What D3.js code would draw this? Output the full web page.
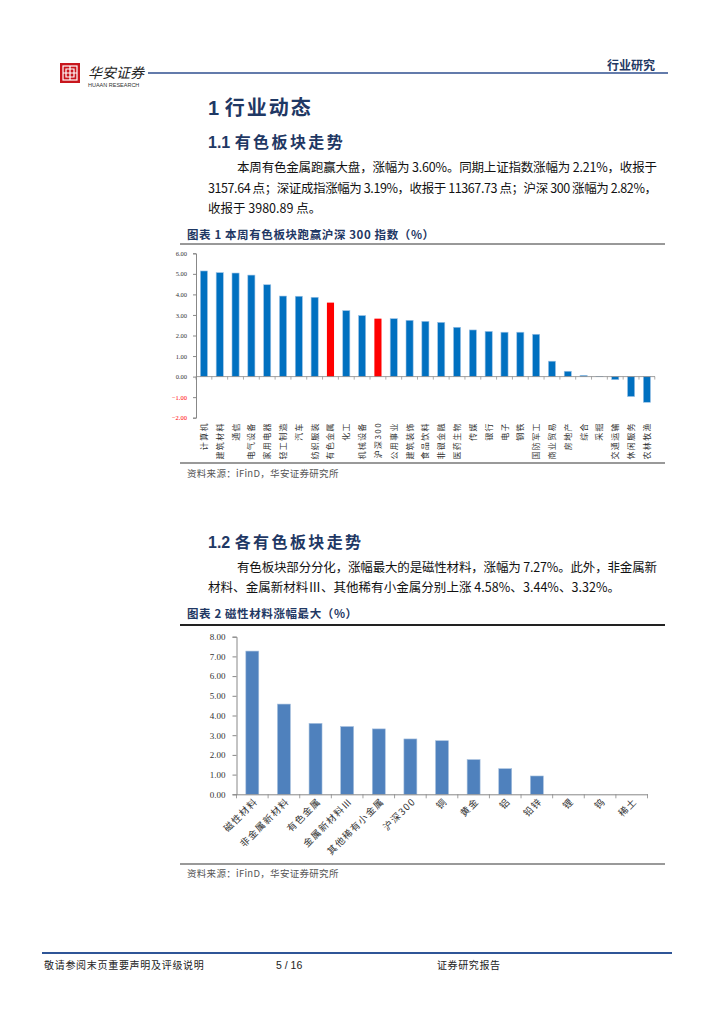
<!DOCTYPE html>
<html><head><meta charset="utf-8">
<script src="https://cdn.jsdelivr.net/npm/d3@7/dist/d3.min.js"></script>
<style>
body{margin:0;background:#fff;}
svg{display:block;}
</style></head>
<body>
<svg id="page" width="724" height="1024"></svg>
<script>
// ---------- DATA ----------
const sectors1 = ["计算机","建筑材料","通信","电气设备","家用电器","轻工制造","汽车","纺织服装","有色金属","化工","机械设备","沪深300","公用事业","建筑装饰","食品饮料","非银金融","医药生物","传媒","银行","电子","钢铁","国防军工","商业贸易","房地产","综合","采掘","交通运输","休闲服务","农林牧渔"];
const values1 = [5.14,5.06,5.04,4.94,4.47,3.92,3.91,3.86,3.60,3.21,2.97,2.82,2.82,2.74,2.69,2.64,2.40,2.27,2.20,2.16,2.16,2.06,0.75,0.26,0.06,0.01,-0.15,-0.97,-1.25];
const highlight1 = ["有色金属","沪深300"];
const ticks1 = [6,5,4,3,2,1,0,-1,-2];

const sectors2 = ["磁性材料","非金属新材料","有色金属","金属新材料Ⅲ","其他稀有小金属","沪深300","铜","黄金","铝","铅锌","锂","钨","稀土"];
const values2 = [7.27,4.58,3.60,3.44,3.32,2.81,2.72,1.76,1.30,0.93,0,0,0];
const ticks2 = [0,1,2,3,4,5,6,7,8];

const svg = d3.select("#page");
const navy = "#1F3864";
const cjk = '"Noto Sans CJK SC","Noto Sans",sans-serif';
const serif = '"Liberation Serif","DejaVu Serif",serif';
const sans = '"Liberation Sans",Arial,sans-serif';

// ---------- HEADER ----------
const logo = svg.append("g").attr("transform","translate(60,63)");
logo.append("rect").attr("width",20).attr("height",20).attr("fill","#C8161D");
logo.append("rect").attr("x",3).attr("y",3).attr("width",14).attr("height",14).attr("fill","none").attr("stroke","#fff").attr("stroke-width",1.2);
logo.append("path").attr("d","M10,3V17M3,10H17M6,6H14V14H6Z").attr("fill","none").attr("stroke","#fff").attr("stroke-width",1.2);
svg.append("text").attr("x",88).attr("y",78).attr("font-family",cjk).attr("font-size",14).attr("font-style","italic").attr("fill","#222").text("华安证券");
svg.append("text").attr("x",88).attr("y",87).attr("font-family",sans).attr("font-size",5.5).attr("fill","#333").text("HUAAN RESEARCH");
svg.append("line").attr("x1",148).attr("x2",668).attr("y1",73).attr("y2",73).attr("stroke","#2F4F8F").attr("stroke-width",1.3);
svg.append("text").attr("x",655).attr("y",70).attr("text-anchor","end").attr("font-family",cjk).attr("font-weight","bold").attr("font-size",12).attr("fill","#1F3864").text("行业研究");

// ---------- TEXT BLOCKS ----------
function heading(x,y,size,num,txt,ls){
  const t = svg.append("text").attr("x",x).attr("y",y).attr("font-family",cjk).attr("font-weight","bold").attr("font-size",size).attr("fill",navy);
  t.append("tspan").attr("font-family",sans).text(num+" ");
  t.append("tspan").attr("letter-spacing",ls).text(txt);
}
function body(x,y,txt,len){
  const t = svg.append("text").attr("x",x).attr("y",y).attr("font-family",cjk).attr("font-size",12.5).attr("fill","#111").text(txt);
  if(len){t.attr("textLength",len).attr("lengthAdjust","spacing");}
}
heading(208,115,20,"1","行业动态",2);
heading(208,148,16,"1.1","有色板块走势",2.4);
body(237,172,"本周有色金属跑赢大盘，涨幅为 3.60%。同期上证指数涨幅为 2.21%，收报于",420);
body(208,193,"3157.64 点；深证成指涨幅为 3.19%，收报于 11367.73 点；沪深 300 涨幅为 2.82%，",449);
body(208,213,"收报于 3980.89 点。");

heading(208,548,16,"1.2","各有色板块走势",2.4);
body(237,572,"有色板块部分分化，涨幅最大的是磁性材料，涨幅为 7.27%。此外，非金属新",420);
body(208,592,"材料、金属新材料Ⅲ、其他稀有小金属分别上涨 4.58%、3.44%、3.32%。",412);

function chartTitle(y,txt){
  svg.append("text").attr("x",187).attr("y",y).attr("font-family",cjk).attr("font-weight","bold").attr("font-size",11.5)
    .attr("letter-spacing",0.6).attr("fill",navy).text(txt);
}
function source(y){
  svg.append("text").attr("x",187).attr("y",y).attr("font-family",cjk).attr("font-size",9.5).attr("letter-spacing",0.3).attr("fill","#555").text("资料来源：iFinD，华安证券研究所");
}

// ---------- CHART 1 ----------
chartTitle(239,"图表 1 本周有色板块跑赢沪深 300 指数（%）");
svg.append("line").attr("x1",180).attr("x2",665).attr("y1",244).attr("y2",244).attr("stroke","#333").attr("stroke-width",1);
svg.append("line").attr("x1",180).attr("x2",665).attr("y1",463).attr("y2",463).attr("stroke","#999").attr("stroke-width",2);
source(477);

const x1 = d3.scaleBand().domain(sectors1).range([196,654.8]).padding(0);
const y1 = d3.scaleLinear().domain([-2,6]).range([417.7,253.3]);
const g1 = svg.append("g");
const bw1 = x1.step()*0.45;
g1.selectAll("rect.b").data(sectors1).join("rect")
  .attr("x",d=>x1(d)+x1.step()/2-bw1/2)
  .attr("width",bw1)
  .attr("y",(d,i)=>y1(Math.max(0,values1[i])))
  .attr("height",(d,i)=>Math.abs(y1(values1[i])-y1(0)))
  .attr("fill",d=>highlight1.includes(d)?"#FF0000":"#0070C0")
  .attr("stroke",d=>highlight1.includes(d)?"none":"#9DC3E6").attr("stroke-width",0.6);
// y axis
const ya1 = d3.axisLeft(y1).tickValues(ticks1).tickSize(3).tickFormat(d3.format(".2f"));
const yg1 = g1.append("g").attr("transform","translate(196,0)").call(ya1);
yg1.select(".domain").attr("stroke","#888");
yg1.selectAll(".tick line").attr("stroke","#888");
yg1.selectAll(".tick text").attr("font-family",serif).attr("font-size",6.5).attr("x",-9)
  .attr("fill",d=>d<0?"#FF0000":"#333");
// x axis at zero
g1.append("line").attr("x1",196).attr("x2",655).attr("y1",y1(0)).attr("y2",y1(0)).attr("stroke","#888").attr("stroke-width",0.8);
g1.selectAll("line.xt").data(d3.range(sectors1.length+1)).join("line")
  .attr("x1",k=>196+k*x1.step()).attr("x2",k=>196+k*x1.step())
  .attr("y1",y1(0)).attr("y2",y1(0)+3).attr("stroke","#888").attr("stroke-width",0.7);
g1.selectAll("text.xl").data(sectors1).join("text")
  .attr("transform",d=>`translate(${x1(d)+x1.step()/2+3},422) rotate(-90)`)
  .attr("text-anchor","end").attr("font-family",cjk).attr("font-size",8).attr("letter-spacing",1.4).attr("fill","#333").text(d=>d);

// ---------- CHART 2 ----------
chartTitle(618,"图表 2 磁性材料涨幅最大（%）");
svg.append("line").attr("x1",180).attr("x2",665).attr("y1",625).attr("y2",625).attr("stroke","#222").attr("stroke-width",2);
svg.append("line").attr("x1",180).attr("x2",665).attr("y1",864).attr("y2",864).attr("stroke","#999").attr("stroke-width",2);
source(877);

const x2 = d3.scaleBand().domain(sectors2).range([236.5,647.5]).padding(0);
const y2 = d3.scaleLinear().domain([0,8]).range([794.3,636.7]);
const g2 = svg.append("g");
const bw2 = x2.step()*0.41;
g2.selectAll("rect").data(sectors2).join("rect")
  .attr("x",d=>x2(d)+x2.step()/2-bw2/2)
  .attr("width",bw2)
  .attr("y",(d,i)=>y2(values2[i]))
  .attr("height",(d,i)=>y2(0)-y2(values2[i]))
  .attr("fill","#4F81BD").attr("stroke","#A7C0DE").attr("stroke-width",0.6);
const ya2 = d3.axisLeft(y2).tickValues(ticks2).tickSize(4).tickFormat(d3.format(".2f"));
const yg2 = g2.append("g").attr("transform","translate(236.5,0)").call(ya2);
yg2.select(".domain").attr("stroke","#888");
yg2.selectAll(".tick line").attr("stroke","#888");
yg2.selectAll(".tick text").attr("font-family",serif).attr("font-size",9).attr("x",-11).attr("fill","#333");
const xa2 = d3.axisBottom(x2).tickSize(0).tickFormat("");
const xg2 = g2.append("g").attr("transform",`translate(0,${y2(0)})`).call(xa2);
xg2.select(".domain").attr("stroke","#888");
g2.selectAll("line.xt").data(d3.range(sectors2.length+1)).join("line")
  .attr("x1",k=>236.5+k*x2.step()).attr("x2",k=>236.5+k*x2.step())
  .attr("y1",y2(0)).attr("y2",y2(0)+4).attr("stroke","#888").attr("stroke-width",0.8);
g2.selectAll("text.xl").data(sectors2).join("text")
  .attr("transform",d=>`translate(${x2(d)+x2.step()/2+6},802) rotate(-45)`)
  .attr("text-anchor","end").attr("font-family",cjk).attr("font-size",9.5).attr("letter-spacing",1.3).attr("fill","#333").text(d=>d);

// ---------- FOOTER ----------
svg.append("line").attr("x1",42).attr("x2",672).attr("y1",953).attr("y2",953).attr("stroke","#2F5597").attr("stroke-width",2);
svg.append("text").attr("x",44).attr("y",969).attr("font-family",cjk).attr("font-size",10).attr("letter-spacing",0.7).attr("fill","#222").text("敬请参阅末页重要声明及评级说明");
svg.append("text").attr("x",276).attr("y",969).attr("font-family",sans).attr("font-size",10.5).attr("fill","#222").text("5 / 16");
svg.append("text").attr("x",437).attr("y",969).attr("font-family",cjk).attr("font-size",10).attr("letter-spacing",0.6).attr("fill","#222").text("证券研究报告");
</script>
</body></html>
